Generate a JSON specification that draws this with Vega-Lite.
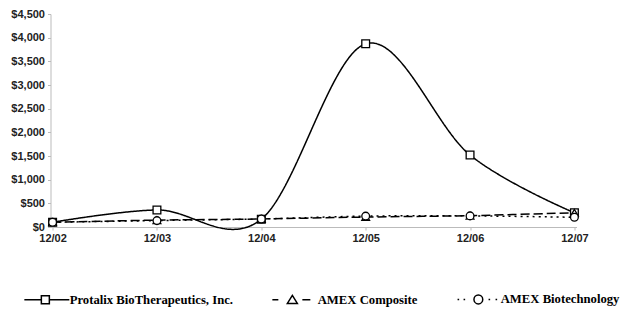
{
  "$schema": "https://vega.github.io/schema/vega-lite/v6.json",
  "width": 526,
  "height": 213,
  "autosize": {"type": "none"},
  "padding": {"left": 50.5, "top": 14, "right": 46.5, "bottom": 85},
  "background": "white",
  "config": {
    "view": {"stroke": null},
    "axis": {
      "grid": false,
      "domainColor": "#bbbbbb",
      "tickColor": "#bbbbbb",
      "labelFont": "Liberation Sans",
      "labelFontWeight": "bold",
      "labelFontSize": 11,
      "labelColor": "#222222",
      "title": null
    }
  },
  "data": {
    "values": [
      {"date": "12/02", "series": "Protalix BioTherapeutics, Inc.", "value": 100},
      {"date": "12/03", "series": "Protalix BioTherapeutics, Inc.", "value": 360},
      {"date": "12/04", "series": "Protalix BioTherapeutics, Inc.", "value": 165},
      {"date": "12/05", "series": "Protalix BioTherapeutics, Inc.", "value": 3870},
      {"date": "12/06", "series": "Protalix BioTherapeutics, Inc.", "value": 1520},
      {"date": "12/07", "series": "Protalix BioTherapeutics, Inc.", "value": 300},
      {"date": "12/02", "series": "AMEX Composite", "value": 100},
      {"date": "12/03", "series": "AMEX Composite", "value": 145},
      {"date": "12/04", "series": "AMEX Composite", "value": 170},
      {"date": "12/05", "series": "AMEX Composite", "value": 210},
      {"date": "12/06", "series": "AMEX Composite", "value": 240},
      {"date": "12/07", "series": "AMEX Composite", "value": 300},
      {"date": "12/02", "series": "AMEX Biotechnology", "value": 100},
      {"date": "12/03", "series": "AMEX Biotechnology", "value": 135},
      {"date": "12/04", "series": "AMEX Biotechnology", "value": 170},
      {"date": "12/05", "series": "AMEX Biotechnology", "value": 230},
      {"date": "12/06", "series": "AMEX Biotechnology", "value": 235},
      {"date": "12/07", "series": "AMEX Biotechnology", "value": 205}
    ]
  },
  "encoding": {
    "x": {
      "field": "date",
      "type": "ordinal",
      "sort": null,
      "scale": {"type": "point", "padding": 0.02},
      "axis": {"labelAngle": 0, "tickSize": 3, "labelPadding": 2}
    },
    "y": {
      "field": "value",
      "type": "quantitative",
      "scale": {"domain": [0, 4500], "nice": false},
      "axis": {"values": [0, 500, 1000, 1500, 2000, 2500, 3000, 3500, 4000, 4500], "format": "$,.0f", "tickSize": 3, "labelPadding": 3}
    }
  },
  "layer": [
    {
      "mark": {"type": "line", "interpolate": "cardinal", "color": "black", "strokeWidth": 1.5},
      "encoding": {
        "strokeDash": {
          "field": "series",
          "type": "nominal",
          "scale": {"domain": ["Protalix BioTherapeutics, Inc.", "AMEX Composite", "AMEX Biotechnology"], "range": [[1, 0], [9, 4], [2, 4]]},
          "legend": null
        }
      }
    },
    {
      "mark": {"type": "point", "filled": true, "fill": "white", "stroke": "black", "strokeWidth": 1.3, "size": 60, "opacity": 1},
      "encoding": {
        "shape": {
          "field": "series",
          "type": "nominal",
          "scale": {"domain": ["Protalix BioTherapeutics, Inc.", "AMEX Composite", "AMEX Biotechnology"], "range": ["square", "triangle-up", "circle"]},
          "legend": null
        }
      }
    },
    {
      "mark": {"type": "point", "opacity": 0, "size": 64, "color": "black", "stroke": "black"},
      "encoding": {
        "shape": {
          "field": "series",
          "type": "nominal",
          "scale": {
            "domain": ["Protalix BioTherapeutics, Inc.", "AMEX Composite", "AMEX Biotechnology"],
            "range": [
              "M-7.5,0H-3.25M-1.25,0H3.75M-3.25,-1H-1.25V1H-3.25Z",
              "M-7.5,0H-6M0,0H2M-2.5,-1.1L-1.25,0.9L-3.75,0.9Z",
              "M-6.95,0H-6.55M-5.45,0H-5.05M0.8,0H1.2M2.55,0H2.95M-0.65,0A1.1,1.1,0,1,1,-2.85,0A1.1,1.1,0,1,1,-0.65,0Z"
            ]
          },
          "legend": {
            "title": null,
            "orient": "none",
            "legendX": -2.5,
            "legendY": 279,
            "direction": "horizontal",
            "columns": 3,
            "columnPadding": 36,
            "padding": 0,
            "labelOffset": 9,
            "labelFont": "Liberation Serif",
            "labelFontWeight": "bold",
            "labelFontSize": 12.7,
            "labelColor": "black",
            "labelLimit": 300,
            "symbolSize": 64,
            "symbolStrokeColor": "black",
            "symbolFillColor": "white",
            "encode": {
              "symbols": {"update": {"opacity": {"value": 1}, "fill": {"value": "white"}, "stroke": {"value": "black"}, "strokeWidth": {"value": 1.4}}}
            }
          }
        }
      }
    }
  ],
  "resolve": {"scale": {"shape": "independent"}, "legend": {"shape": "independent"}}
}
